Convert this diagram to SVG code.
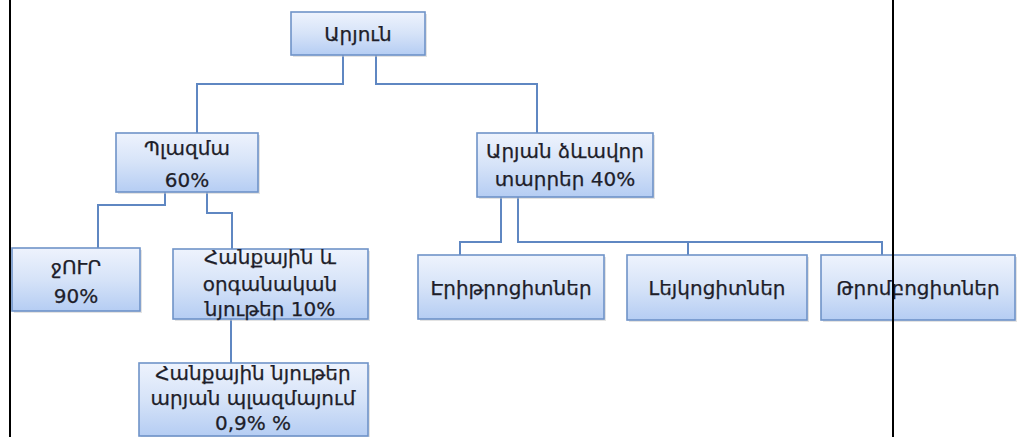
<svg xmlns="http://www.w3.org/2000/svg" width="1017" height="437" viewBox="0 0 1017 437">
<style>
.box{fill:url(#g);stroke:#6f93c8;stroke-width:1.6}
.sh{fill:#c8c8c8;opacity:0.5}
.t{font-family:"DejaVu Sans",sans-serif;font-size:20px;fill:#1e1e2a;stroke:#1e1e2a;stroke-width:0.25;text-anchor:middle}
.c{fill:none;stroke:#5f87c2;stroke-width:2}
.bl{stroke:#000;stroke-width:2}
</style>
<defs>
<linearGradient id="g" x1="0" y1="0" x2="0" y2="1">
<stop offset="0" stop-color="#eef3fd"/>
<stop offset="0.5" stop-color="#d6e3f8"/>
<stop offset="1" stop-color="#b5cdf3"/>
</linearGradient>
</defs>
<rect width="1017" height="437" fill="#fff"/>
<g id="connectors">
<polyline class="c" points="343,55 343,84 197,84 197,133"/>
<polyline class="c" points="376,55 376,84 537,84 537,133"/>
<polyline class="c" points="165,192 165,205 98,205 98,248"/>
<polyline class="c" points="207,192 207,213 232,213 232,249"/>
<polyline class="c" points="231,319 231,363"/>
<polyline class="c" points="501,197 501,242 460,242 460,255"/>
<polyline class="c" points="518,197 518,242 882,242 882,255"/>
<polyline class="c" points="688,242 688,255"/>
</g>
<g id="n-root">
<rect class="sh" x="293" y="14" width="134" height="43"/>
<rect class="box" x="291" y="12" width="134" height="43"/>
<text class="t" x="358" y="41">Արյուն</text>
</g>
<g id="n-plasma">
<rect class="sh" x="118" y="135" width="142" height="59"/>
<rect class="box" x="116" y="133" width="142" height="59"/>
<text class="t" x="187" y="155">Պլազմա</text>
<text class="t" x="187" y="187">60%</text>
</g>
<g id="n-formed">
<rect class="sh" x="479" y="135" width="176" height="64"/>
<rect class="box" x="477" y="133" width="176" height="64"/>
<text class="t" x="565" y="158">Արյան ձևավոր</text>
<text class="t" x="565" y="186">տարրեր 40%</text>
</g>
<g id="n-water">
<rect class="sh" x="14" y="250" width="128" height="63"/>
<rect class="box" x="12" y="248" width="128" height="63"/>
<text class="t" x="76" y="274">ջՈՒՐ</text>
<text class="t" x="76" y="303">90%</text>
</g>
<g id="n-mineral">
<rect class="sh" x="175" y="251" width="195" height="70"/>
<rect class="box" x="173" y="249" width="195" height="70"/>
<text class="t" x="270" y="264">Հանքային և</text>
<text class="t" x="270" y="291">օրգանական</text>
<text class="t" x="270" y="316">նյութեր 10%</text>
</g>
<g id="n-mineral-plasma">
<rect class="sh" x="141" y="365" width="229" height="73"/>
<rect class="box" x="139" y="363" width="229" height="73"/>
<text class="t" x="253" y="380">Հանքային նյութեր</text>
<text class="t" x="253" y="405">արյան պլազմայում</text>
<text class="t" x="253" y="430">0,9% %</text>
</g>
<g id="n-eryth">
<rect class="sh" x="420" y="257" width="186" height="64"/>
<rect class="box" x="418" y="255" width="186" height="64"/>
<text class="t" x="511" y="295">Էրիթրոցիտներ</text>
</g>
<g id="n-leuk">
<rect class="sh" x="629" y="257" width="180" height="65"/>
<rect class="box" x="627" y="255" width="180" height="65"/>
<text class="t" x="717" y="295">Լեյկոցիտներ</text>
</g>
<g id="n-thromb">
<rect class="sh" x="823" y="257" width="194" height="65"/>
<rect class="box" x="821" y="255" width="194" height="65"/>
<text class="t" x="918" y="295">Թրոմբոցիտներ</text>
</g>
<g id="frame">
<line class="bl" x1="10" y1="0" x2="10" y2="437"/>
<line class="bl" x1="893" y1="0" x2="893" y2="437"/>
</g>
</svg>
